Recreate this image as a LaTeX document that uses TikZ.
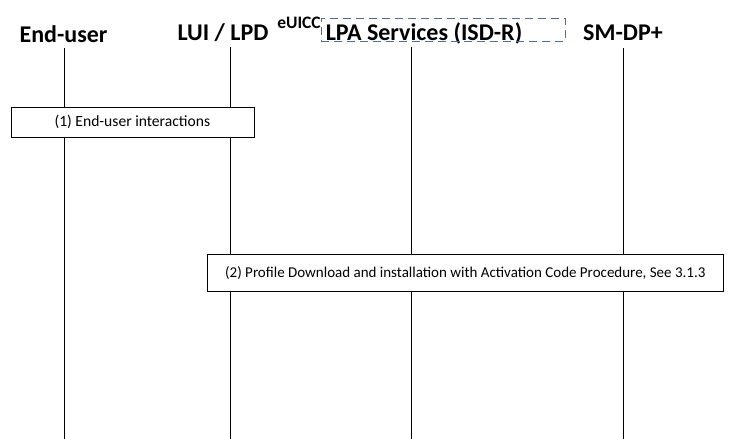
\documentclass[tikz,border=0pt]{standalone}
\usepackage{fontspec}
\setmainfont{Carlito}
\begin{document}
\begin{tikzpicture}[x=1pt,y=-1pt,
  head/.style={font=\fontsize{24}{28}\selectfont\bfseries, inner sep=0pt, anchor=base},
  life/.style={draw=black, line width=0.6pt},
  procbox/.style={draw=black, line width=0.7pt, fill=white, inner sep=0pt, font=\fontsize{15}{18}\selectfont},
  groupbox/.style={draw={rgb,255:red,80;green,110;blue,150}, line width=0.8pt, dash pattern=on 8pt off 5pt}]
\useasboundingbox (0,0) rectangle (750,439);
% headers
\node[head] (hEU) at (63.5,42.5) {End-user};
\node[head] (hLUI) at (223,40.5) {LUI / LPD};
\node[head] (hLPA) at (424,40.5) {LPA Services (ISD-R)};
\node[head] (hSM) at (623,40.5) {SM-DP+};
\node[font=\fontsize{17.5}{20}\selectfont\bfseries, inner sep=0pt, anchor=base] (eu) at (299,28) {eUICC};
\node[groupbox, minimum width=244pt, minimum height=23pt, anchor=north west] (grp) at (320.5,18) {};
% lifelines
\coordinate (t1) at (64,48); \coordinate (b1) at (64,439);
\coordinate (t2) at (230,47); \coordinate (b2) at (230,439);
\coordinate (t3) at (411.5,47); \coordinate (b3) at (411.5,439);
\coordinate (t4) at (623,48); \coordinate (b4) at (623,439);
\draw[life] (t1) -- (b1);
\draw[life] (t2) -- (b2);
\draw[life] (t3) -- (b3);
\draw[life] (t4) -- (b4);
% boxes
\node[procbox, font=\fontsize{15.6}{18}\selectfont, minimum width=243pt, minimum height=29.5pt, anchor=north west] (p1) at (10.5,107) {(1) End-user interactions};
\node[procbox, minimum width=516pt, minimum height=37pt, anchor=north west] (p2) at (207,254) {(2) Profile Download and installation with Activation Code Procedure, See 3.1.3};
\end{tikzpicture}
\end{document}
